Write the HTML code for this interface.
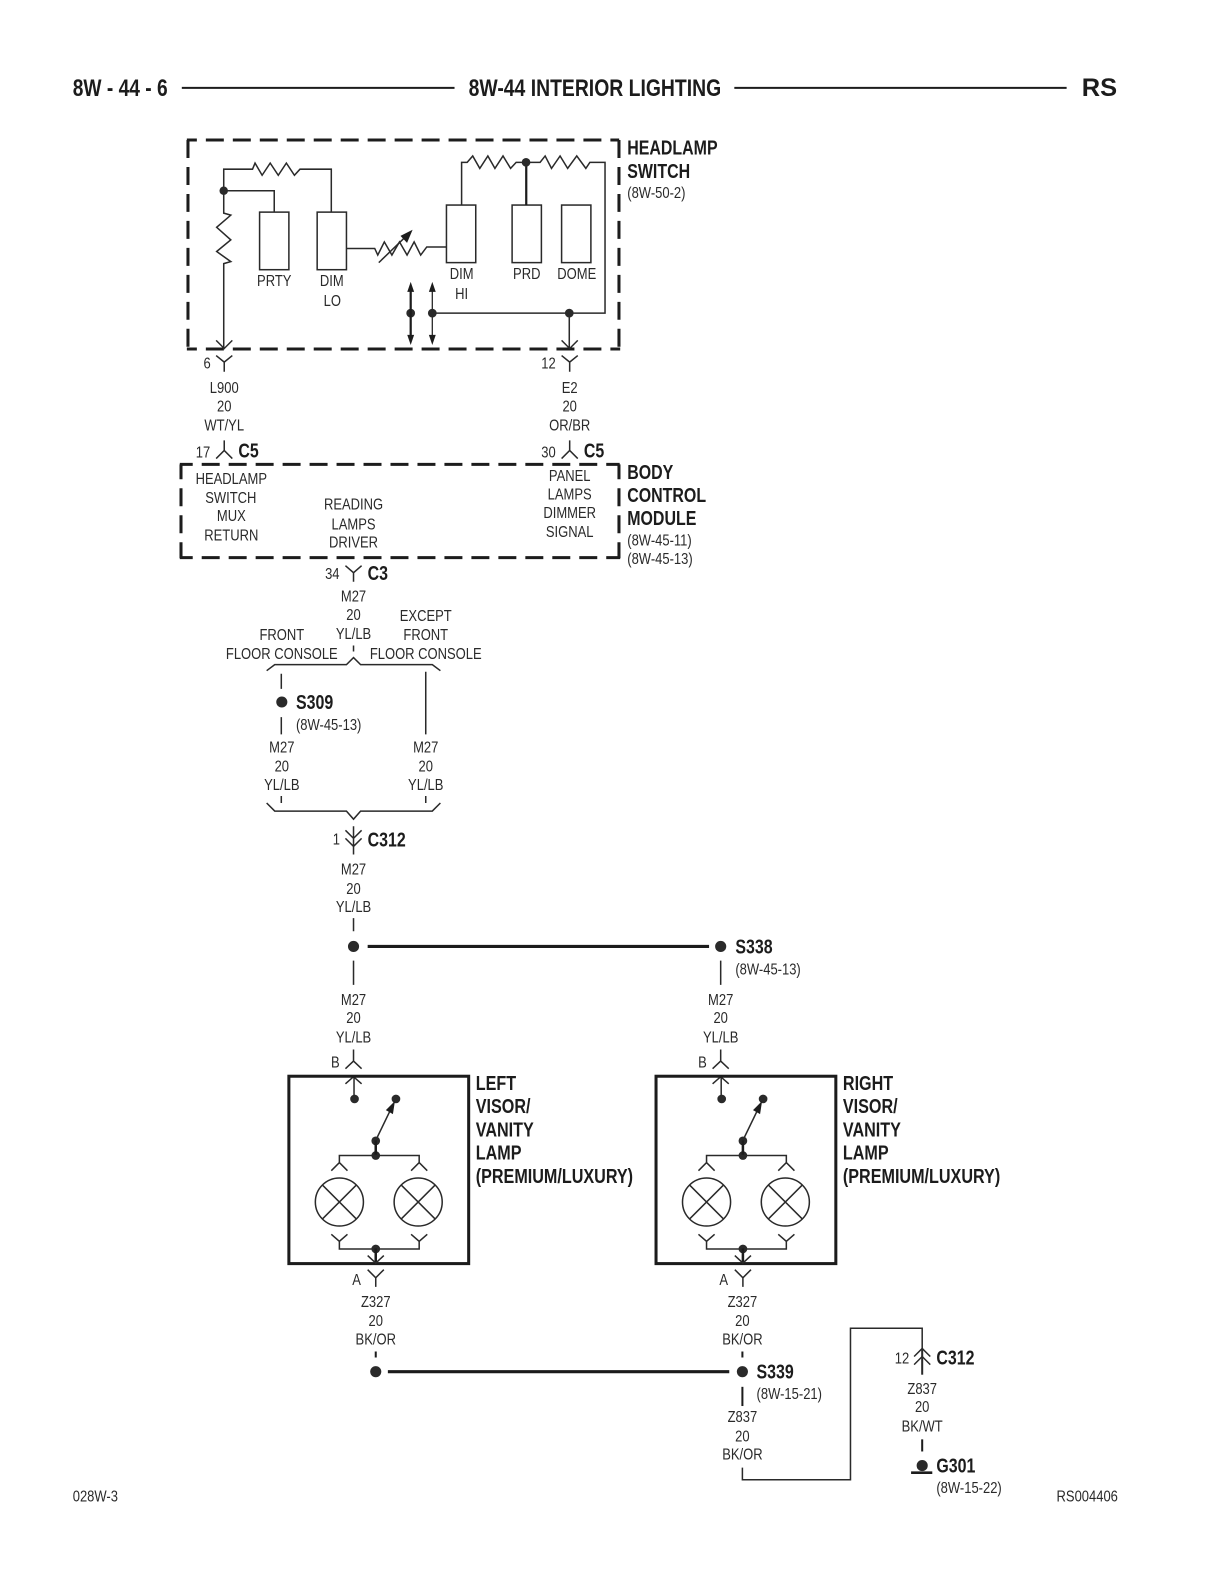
<!DOCTYPE html>
<html><head><meta charset="utf-8"><style>
html,body{margin:0;padding:0;background:#fff}
svg{display:block}
text{font-family:"Liberation Sans",sans-serif;fill:#2a2a2a}
.r{font-size:15.5px}
.b{font-size:20px;font-weight:bold;fill:#1c1c1c}
.m{text-anchor:middle}
.l{fill:none;stroke:#2a2a2a;stroke-width:1.5}
.t{fill:none;stroke:#1c1c1c;stroke-width:3}
.d{fill:none;stroke:#1c1c1c;stroke-width:3;stroke-dasharray:17.8 8.9}
circle.n{fill:#2a2a2a}
</style></head><body>
<svg width="1224" height="1584" viewBox="0 0 1211.8 1568.2" xmlns="http://www.w3.org/2000/svg">
<!-- header -->
<text class="b" style="font-size:24px" textLength="94" lengthAdjust="spacingAndGlyphs" x="72" y="95">8W - 44 - 6</text>
<text class="b" style="font-size:24px" textLength="250" lengthAdjust="spacingAndGlyphs" x="464" y="95">8W-44 INTERIOR LIGHTING</text>
<text class="b" style="font-size:25px" textLength="35" lengthAdjust="spacingAndGlyphs" x="1071" y="95">RS</text>
<path d="M180 87H450M727 87H1056" fill="none" stroke="#1c1c1c" stroke-width="2"/>

<!-- headlamp switch -->
<path class="d" style="stroke-dashoffset:7.9" d="M185 138.600H613"/>
<path class="d" d="M186.100 138.600V346"/>
<path class="d" d="M612.800 138.600V346"/>
<path class="d" style="stroke-dashoffset:7.9" d="M185 345.500H614"/>
<path class="l" d="M221.500 188.800V167.500H250l2.500-6 7 12 8-12 8 12 8-12 8 12 5.500-6H328V210M221.500 188.800H271.500V210M221.500 188.800V211l7 2-14 12 14 12.500-14 11.500 14 10-7 2V346"/>
<path class="l" d="M214 337l8 8 8-8M556 337l8 8 8-8"/>
<rect class="l" x="257" y="210" width="29" height="57"/>
<rect class="l" x="314" y="210" width="29" height="57"/>
<rect class="l" x="442" y="203" width="29" height="57"/>
<rect class="l" x="507" y="203" width="29" height="57"/>
<rect class="l" x="556" y="203" width="29" height="57"/>
<path class="l" d="M343 246H371l3 6.500 6.500-13 7.500 13 7.500-13 7.500 13 7-13 6.500 13 6-8H442"/>
<path class="l" d="M375 260L403 233"/><path d="M408.500 227.500L396.500 233.500 403 240.500Z" fill="#1c1c1c"/>
<path class="l" d="M457 203V160.700H462.500l5.500-6.300 7 12.300 8-12.300 7 12.300 8-12.300 7.500 12.300 5.500-6H534.700l5-6.300 6.300 12.300 8.500-12.300 7.500 12.300 9-12.300 9 12.300 4-6H599V310H428"/>
<path d="M521 160.700V203" stroke="#1c1c1c" stroke-width="2.200"/>
<path class="l" d="M563.600 310V345"/>
<circle class="n" cx="221.500" cy="188.800" r="4.200"/><circle class="n" cx="520.800" cy="160.700" r="4.300"/>
<circle class="n" cx="563.600" cy="310" r="4.300"/><circle class="n" cx="428" cy="310" r="4.300"/><circle class="n" cx="406.600" cy="310" r="4.300"/>
<path d="M406.600 285V336" stroke="#1c1c1c" stroke-width="2.200"/><path d="M428 285V336" stroke="#2a2a2a" stroke-width="1.300"/>
<path d="M406.600 279l-3.400 10h6.800ZM406.600 341.500l-3.400-10h6.800ZM428 279l-3.400 10h6.800ZM428 341.500l-3.400-10h6.800Z" fill="#1c1c1c"/>
<text class="r m" transform="translate(271.500 283) scale(.83 1)">PRTY</text>
<text class="r m" transform="translate(328.500 283) scale(.83 1)">DIM</text>
<text class="r m" transform="translate(329 303) scale(.83 1)">LO</text>
<text class="r m" transform="translate(457 276) scale(.83 1)">DIM</text>
<text class="r m" transform="translate(457 296) scale(.83 1)">HI</text>
<text class="r m" transform="translate(521.500 276) scale(.83 1)">PRD</text>
<text class="r m" transform="translate(571 276) scale(.83 1)">DOME</text>
<text class="b" transform="translate(621 153) scale(.79 1)">HEADLAMP</text>
<text class="b" transform="translate(621 176) scale(.79 1)">SWITCH</text>
<text class="r" transform="translate(621 196) scale(.83 1)">(8W-50-2)</text>

<!-- pins under switch -->
<path class="l" d="M214 352l8 6.500 8-6.500M222 358.500V368M556 352l8 6.500 8-6.500M564 358.500V368"/>
<text class="r m" transform="translate(205 365) scale(.83 1)">6</text>
<text class="r m" transform="translate(543 365) scale(.83 1)">12</text>
<text class="r m" transform="translate(222 389) scale(.83 1)">L900</text>
<text class="r m" transform="translate(222 407.500) scale(.83 1)">20</text>
<text class="r m" transform="translate(222 426) scale(.83 1)">WT/YL</text>
<text class="r m" transform="translate(564 389) scale(.83 1)">E2</text>
<text class="r m" transform="translate(564 407.500) scale(.83 1)">20</text>
<text class="r m" transform="translate(564 426) scale(.83 1)">OR/BR</text>
<path class="l" d="M222 436V446M214 454l8-8 8 8M564 436V446M556 454l8-8 8 8"/>
<text class="r m" transform="translate(201 453) scale(.83 1)">17</text>
<text class="r m" transform="translate(543 453) scale(.83 1)">30</text>
<text class="b" transform="translate(236 453) scale(.79 1)">C5</text>
<text class="b" transform="translate(578 453) scale(.79 1)">C5</text>

<!-- BCM -->
<path class="d" style="stroke-dashoffset:5" d="M178 459.700H613.500"/>
<path class="d" style="stroke-dashoffset:3" d="M179.200 459.700V552.500"/>
<path class="d" style="stroke-dashoffset:3" d="M612.800 459.700V552.500"/>
<path class="d" style="stroke-dashoffset:5" d="M178 552.100H614"/>
<text class="r m" transform="translate(229 479) scale(.83 1)">HEADLAMP</text>
<text class="r m" transform="translate(228.500 498) scale(.83 1)">SWITCH</text>
<text class="r m" transform="translate(229 516) scale(.83 1)">MUX</text>
<text class="r m" transform="translate(229 535) scale(.83 1)">RETURN</text>
<text class="r m" transform="translate(350 504.500) scale(.83 1)">READING</text>
<text class="r m" transform="translate(350 524) scale(.83 1)">LAMPS</text>
<text class="r m" transform="translate(350 542) scale(.83 1)">DRIVER</text>
<text class="r m" transform="translate(564 476) scale(.83 1)">PANEL</text>
<text class="r m" transform="translate(564 494.500) scale(.83 1)">LAMPS</text>
<text class="r m" transform="translate(564 513) scale(.83 1)">DIMMER</text>
<text class="r m" transform="translate(564 531.500) scale(.83 1)">SIGNAL</text>
<text class="b" transform="translate(621 474) scale(.79 1)">BODY</text>
<text class="b" transform="translate(621 497) scale(.79 1)">CONTROL</text>
<text class="b" transform="translate(621 520) scale(.79 1)">MODULE</text>
<text class="r" transform="translate(621 540) scale(.83 1)">(8W-45-11)</text>
<text class="r" transform="translate(621 558.500) scale(.83 1)">(8W-45-13)</text>

<!-- C3 -->
<path class="l" d="M342 560l8 7 8-7M350 567V576"/>
<text class="r m" transform="translate(329 573) scale(.83 1)">34</text>
<text class="b" transform="translate(364 574) scale(.79 1)">C3</text>
<text class="r m" transform="translate(350 595.500) scale(.83 1)">M27</text>
<text class="r m" transform="translate(350 614) scale(.83 1)">20</text>
<text class="r m" transform="translate(350 632.500) scale(.83 1)">YL/LB</text>
<text class="r m" transform="translate(279 633.500) scale(.83 1)">FRONT</text>
<text class="r m" transform="translate(279 652.500) scale(.83 1)">FLOOR CONSOLE</text>
<text class="r m" transform="translate(421.500 615) scale(.83 1)">EXCEPT</text>
<text class="r m" transform="translate(421.500 633.500) scale(.83 1)">FRONT</text>
<text class="r m" transform="translate(421.500 652.500) scale(.83 1)">FLOOR CONSOLE</text>
<path class="l" d="M350 639V645M264 664l8-6H343l7-7 7 7H428l8 6"/>
<path class="l" d="M278.500 667V682M278.500 710V727M421.500 665V727"/>
<circle class="n" cx="279" cy="695" r="5.500"/>
<text class="b" transform="translate(293 702) scale(.79 1)">S309</text>
<text class="r" transform="translate(293 722.500) scale(.83 1)">(8W-45-13)</text>
<text class="r m" transform="translate(279 745) scale(.83 1)">M27</text>
<text class="r m" transform="translate(279 764) scale(.83 1)">20</text>
<text class="r m" transform="translate(279 782) scale(.83 1)">YL/LB</text>
<text class="r m" transform="translate(421.500 745) scale(.83 1)">M27</text>
<text class="r m" transform="translate(421.500 764) scale(.83 1)">20</text>
<text class="r m" transform="translate(421.500 782) scale(.83 1)">YL/LB</text>
<path class="l" d="M278.500 788V795M421.500 788V795M264 795l8 8H343l7 8 7-8H428l8-8"/>

<!-- C312 -->
<path class="l" d="M350 818V846M342 822l8 8 8-8M342 830l8 8 8-8"/>
<text class="r m" transform="translate(333 836) scale(.83 1)">1</text>
<text class="b" transform="translate(364 838) scale(.79 1)">C312</text>
<text class="r m" transform="translate(350 866) scale(.83 1)">M27</text>
<text class="r m" transform="translate(350 885) scale(.83 1)">20</text>
<text class="r m" transform="translate(350 903) scale(.83 1)">YL/LB</text>
<path class="l" d="M350 909V922M350 951V975M713.500 951V975"/>
<circle class="n" cx="350" cy="937" r="5.500"/><circle class="n" cx="713.500" cy="937" r="5.500"/>
<path d="M364 937H702" stroke="#1c1c1c" stroke-width="3"/>
<text class="b" transform="translate(728 944) scale(.79 1)">S338</text>
<text class="r" transform="translate(728 965) scale(.83 1)">(8W-45-13)</text>
<text class="r m" transform="translate(350 995) scale(.83 1)">M27</text>
<text class="r m" transform="translate(350 1013) scale(.83 1)">20</text>
<text class="r m" transform="translate(350 1032) scale(.83 1)">YL/LB</text>
<text class="r m" transform="translate(713.500 995) scale(.83 1)">M27</text>
<text class="r m" transform="translate(713.500 1013) scale(.83 1)">20</text>
<text class="r m" transform="translate(713.500 1032) scale(.83 1)">YL/LB</text>

<!-- left lamp -->
<path class="l" d="M350 1039V1050.500M342 1058l8-7.500 8 7.500M342 1073l8-7 8 7M350.500 1066V1088"/>
<text class="r m" transform="translate(332 1057) scale(.83 1)">B</text>
<rect class="t" x="286" y="1065.500" width="178" height="185.500"/>
<circle class="n" cx="351" cy="1088" r="4.300"/><circle class="n" cx="392" cy="1088" r="4.300"/>
<path class="l" d="M372 1129L387 1098"/><path d="M391 1090L382 1099 389 1103Z" fill="#1c1c1c"/>
<circle class="n" cx="372" cy="1129.500" r="4.300"/><circle class="n" cx="372" cy="1144" r="4.300"/>
<path d="M372 1129V1144" stroke="#1c1c1c" stroke-width="2.500"/>
<path class="l" d="M336 1151V1144H415V1151M328 1159l8-8 8 8M407 1159l8-8 8 8"/>
<circle class="l" cx="336" cy="1190" r="23.800"/><circle class="l" cx="414" cy="1190" r="23.800"/>
<path class="l" d="M319 1173L353 1207M353 1173L319 1207M397 1173L431 1207M431 1173L397 1207"/>
<path class="l" d="M328 1222l8 7 8-7M407 1222l8 7 8-7M336 1229V1236.500H415V1229"/>
<circle class="n" cx="372" cy="1236.500" r="4.300"/>
<path d="M372 1236V1251" stroke="#1c1c1c" stroke-width="2.500"/>
<path class="l" d="M364 1243l8 7.500 8-7.500"/>
<path class="l" d="M364 1257l8 8 8-8M372 1265V1274"/>
<text class="r m" transform="translate(353 1272) scale(.83 1)">A</text>
<text class="b" transform="translate(471 1079) scale(.8 1)">LEFT</text>
<text class="b" transform="translate(471 1102) scale(.8 1)">VISOR/</text>
<text class="b" transform="translate(471 1125) scale(.8 1)">VANITY</text>
<text class="b" transform="translate(471 1148) scale(.8 1)">LAMP</text>
<text class="b" transform="translate(471 1171) scale(.8 1)">(PREMIUM/LUXURY)</text>

<!-- right lamp -->
<g transform="translate(363.500 0)">
<path class="l" d="M350 1039V1050.500M342 1058l8-7.500 8 7.500M342 1073l8-7 8 7M350.500 1066V1088"/>
<text class="r m" transform="translate(332 1057) scale(.83 1)">B</text>
<rect class="t" x="286" y="1065.500" width="178" height="185.500"/>
<circle class="n" cx="351" cy="1088" r="4.300"/><circle class="n" cx="392" cy="1088" r="4.300"/>
<path class="l" d="M372 1129L387 1098"/><path d="M391 1090L382 1099 389 1103Z" fill="#1c1c1c"/>
<circle class="n" cx="372" cy="1129.500" r="4.300"/><circle class="n" cx="372" cy="1144" r="4.300"/>
<path d="M372 1129V1144" stroke="#1c1c1c" stroke-width="2.500"/>
<path class="l" d="M336 1151V1144H415V1151M328 1159l8-8 8 8M407 1159l8-8 8 8"/>
<circle class="l" cx="336" cy="1190" r="23.800"/><circle class="l" cx="414" cy="1190" r="23.800"/>
<path class="l" d="M319 1173L353 1207M353 1173L319 1207M397 1173L431 1207M431 1173L397 1207"/>
<path class="l" d="M328 1222l8 7 8-7M407 1222l8 7 8-7M336 1229V1236.500H415V1229"/>
<circle class="n" cx="372" cy="1236.500" r="4.300"/>
<path d="M372 1236V1251" stroke="#1c1c1c" stroke-width="2.500"/>
<path class="l" d="M364 1243l8 7.500 8-7.500"/>
<path class="l" d="M364 1257l8 8 8-8M372 1265V1274"/>
<text class="r m" transform="translate(353 1272) scale(.83 1)">A</text>
<text class="b" transform="translate(471 1079) scale(.8 1)">RIGHT</text>
<text class="b" transform="translate(471 1102) scale(.8 1)">VISOR/</text>
<text class="b" transform="translate(471 1125) scale(.8 1)">VANITY</text>
<text class="b" transform="translate(471 1148) scale(.8 1)">LAMP</text>
<text class="b" transform="translate(471 1171) scale(.8 1)">(PREMIUM/LUXURY)</text>
</g>

<!-- bottom -->
<text class="r m" transform="translate(372 1294) scale(.83 1)">Z327</text>
<text class="r m" transform="translate(372 1313) scale(.83 1)">20</text>
<text class="r m" transform="translate(372 1331) scale(.83 1)">BK/OR</text>
<text class="r m" transform="translate(735 1294) scale(.83 1)">Z327</text>
<text class="r m" transform="translate(735 1313) scale(.83 1)">20</text>
<text class="r m" transform="translate(735 1331) scale(.83 1)">BK/OR</text>
<path d="M372 1338V1344M735 1338V1344" stroke="#1c1c1c" stroke-width="2"/>
<circle class="n" cx="372" cy="1358" r="5.500"/><circle class="n" cx="735" cy="1358" r="5.500"/>
<path d="M384 1358H722" stroke="#1c1c1c" stroke-width="3"/>
<path d="M735 1373V1392" stroke="#1c1c1c" stroke-width="2"/>
<text class="b" transform="translate(749 1365) scale(.79 1)">S339</text>
<text class="r" transform="translate(749 1385) scale(.83 1)">(8W-15-21)</text>
<text class="r m" transform="translate(735 1408) scale(.83 1)">Z837</text>
<text class="r m" transform="translate(735 1427) scale(.83 1)">20</text>
<text class="r m" transform="translate(735 1445) scale(.83 1)">BK/OR</text>
<path class="l" d="M735 1453V1465H842V1315H913V1335"/>
<path d="M913 1335V1361" stroke="#2a2a2a" stroke-width="2"/>
<path class="l" d="M905 1343l8-8 8 8M905 1351l8-8 8 8"/>
<text class="r m" transform="translate(893 1350) scale(.83 1)">12</text>
<text class="b" transform="translate(927 1351) scale(.79 1)">C312</text>
<text class="r m" transform="translate(913 1380) scale(.83 1)">Z837</text>
<text class="r m" transform="translate(913 1398) scale(.83 1)">20</text>
<text class="r m" transform="translate(913 1417) scale(.83 1)">BK/WT</text>
<path d="M913 1425V1437" stroke="#1c1c1c" stroke-width="2"/>
<circle class="n" cx="913" cy="1451" r="5.500"/>
<path d="M902 1458H923" stroke="#1c1c1c" stroke-width="2.500"/>
<text class="b" transform="translate(927 1458) scale(.79 1)">G301</text>
<text class="r" transform="translate(927 1478) scale(.83 1)">(8W-15-22)</text>
<text class="r" transform="translate(72 1486.500) scale(.83 1)">028W-3</text>
<text class="r" transform="translate(1046 1486.500) scale(.83 1)">RS004406</text>
</svg>
</body></html>
